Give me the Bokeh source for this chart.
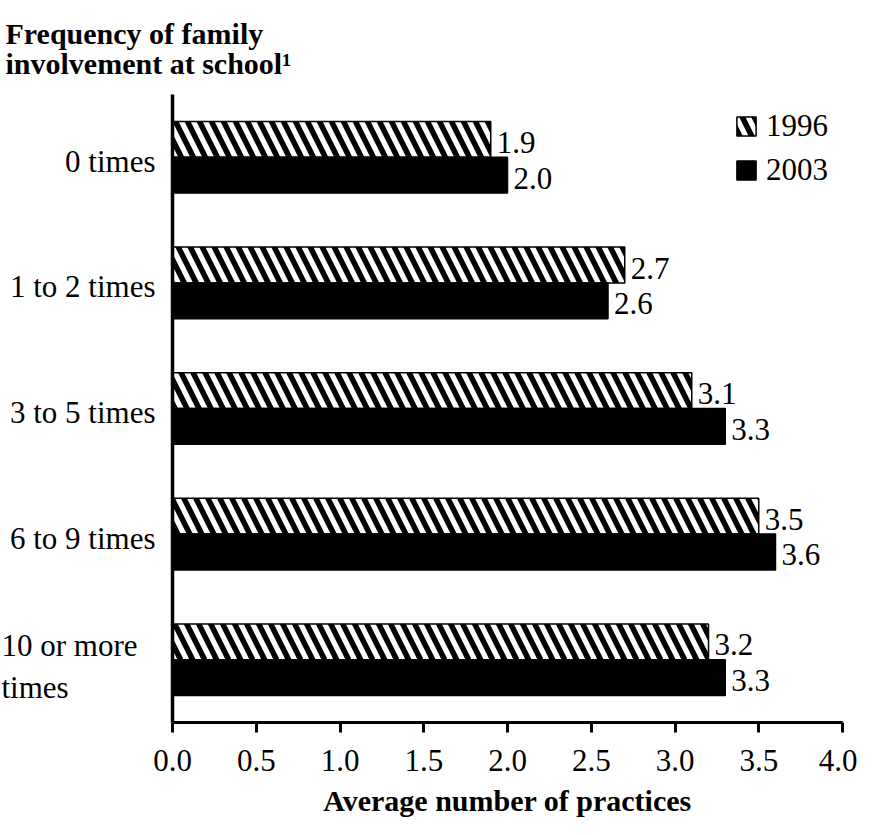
from bokeh.plotting import figure
from bokeh.models import (Range1d, FixedTicker, ColumnDataSource, LabelSet,
                          NumeralTickFormatter, Title)
from bokeh.core.properties import value
from bokeh.embed import file_html
from bokeh.resources import INLINE

# ---- data ----
categories = ["0 times", "1 to 2 times", "3 to 5 times", "6 to 9 times", "10 or more times"]
values_1996 = [1.9, 2.7, 3.1, 3.5, 3.2]
values_2003 = [2.0, 2.6, 3.3, 3.6, 3.3]
x_ticks = [0.0, 0.5, 1.0, 1.5, 2.0, 2.5, 3.0, 3.5, 4.0]
series_labels = ["1996", "2003"]
title_text = "Frequency of family\ninvolvement at school\u00b9"
x_title = "Average number of practices"

SERIF = "Liberation Serif"
REG = "31px"
BOLD = "30px"
BAR_H = 0.285

pos = list(range(len(categories)))
src = ColumnDataSource(dict(
    y96=[p - BAR_H / 2 for p in pos],
    y03=[p + BAR_H / 2 for p in pos],
    v96=values_1996,
    v03=values_2003,
    t96=[f"{v:.1f}" for v in values_1996],
    t03=[f"{v:.1f}" for v in values_2003],
))

def wrap(c):
    if len(c) > 12:
        a, b = c.rsplit(" ", 1)
        return a + "\n" + b
    return c

p = figure(width=857, height=819,
           x_range=Range1d(0, 4), y_range=Range1d(len(categories) - 0.5, -0.5),
           output_backend="svg", toolbar_location=None,
           min_border_left=172, min_border_right=15, min_border_top=88, min_border_bottom=0)
p.outline_line_color = None
p.xgrid.grid_line_color = None
p.ygrid.grid_line_color = None
p.background_fill_color = "white"

p.hbar(y="y96", right="v96", left=0, height=BAR_H, source=src,
       fill_color="white", line_color="black", line_width=1.5,
       hatch_pattern="\\", hatch_color="black", hatch_scale=24, hatch_weight=5.5,
       legend_label=series_labels[0])
p.hbar(y="y03", right="v03", left=0, height=BAR_H, source=src,
       fill_color="black", line_color="black", line_width=1.5,
       legend_label=series_labels[1])

for col_y, col_x, col_t in [("y96", "v96", "t96"), ("y03", "v03", "t03")]:
    p.add_layout(LabelSet(x=col_x, y=col_y, text=col_t, source=src,
                          x_offset=6, y_offset=-3,
                          text_font=SERIF, text_font_size=REG,
                          text_align="left", text_baseline="middle", text_color="black"))

# category labels, drawn left of the value axis (unclipped overlay level)
single = [(i, c) for i, c in zip(pos, categories) if "\n" not in wrap(c)]
multi = [(i, wrap(c)) for i, c in zip(pos, categories) if "\n" in wrap(c)]
src_r = ColumnDataSource(dict(x=[0] * len(single), y=[i for i, _ in single], t=[c for _, c in single]))
src_l = ColumnDataSource(dict(x=[0] * len(multi), y=[i for i, _ in multi], t=[c for _, c in multi]))
r1 = p.text(x="x", y="y", text="t", source=src_r, x_offset=-17, y_offset=4,
            text_font=value(SERIF), text_font_size=REG, text_color="black",
            text_align="right", text_baseline="middle")
r2 = p.text(x="x", y="y", text="t", source=src_l, x_offset=-171, y_offset=7,
            text_font=value(SERIF), text_font_size=REG, text_color="black",
            text_align="left", text_baseline="middle", text_line_height=1.2)
r1.level = "overlay"
r2.level = "overlay"

# x axis
xa = p.xaxis[0]
xa.ticker = FixedTicker(ticks=x_ticks)
xa.formatter = NumeralTickFormatter(format="0.0")
xa.axis_line_width = 3
xa.axis_line_color = "black"
xa.major_tick_line_width = 3
xa.major_tick_line_color = "black"
xa.major_tick_out = 10
xa.major_tick_in = 0
xa.minor_tick_line_color = None
xa.major_label_text_font = SERIF
xa.major_label_text_font_size = REG
xa.major_label_text_color = "black"
xa.major_label_standoff = 17
xa.axis_label = x_title
xa.axis_label_text_font = SERIF
xa.axis_label_text_font_size = BOLD
xa.axis_label_text_font_style = "bold"
xa.axis_label_text_color = "black"
xa.axis_label_standoff = 10

# y axis: line only
ya = p.yaxis[0]
ya.ticker = FixedTicker(ticks=[])
ya.axis_line_width = 3.5
ya.axis_line_color = "black"
ya.major_tick_line_color = None
ya.major_tick_out = 0
ya.major_tick_in = 0
ya.minor_tick_line_color = None
ya.major_label_text_font_size = "0px"

# title
t = Title(text=title_text, align="left", offset=-167, standoff=29,
          text_font=SERIF, text_font_size=BOLD, text_font_style="bold",
          text_color="black", text_line_height=0.9)
p.add_layout(t, "above")

# legend
lg = p.legend[0]
lg.location = "top_right"
lg.margin = 14
lg.padding = 0
lg.spacing = 8
lg.border_line_color = None
lg.background_fill_alpha = 0
lg.glyph_width = 24
lg.glyph_height = 24
lg.label_standoff = 8
lg.label_text_font = SERIF
lg.label_text_font_size = REG
lg.label_text_color = "black"

open("out.html", "w").write(file_html(p, INLINE))
